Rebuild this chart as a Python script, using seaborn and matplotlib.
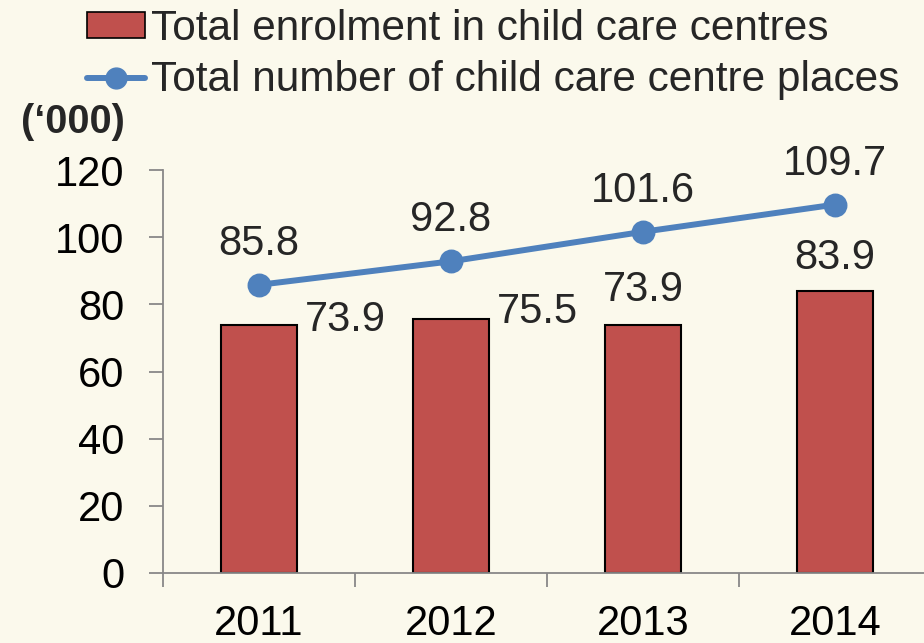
import matplotlib
matplotlib.use("Agg")
import matplotlib.pyplot as plt
import seaborn as sns
import pandas as pd
from matplotlib.patches import Patch
from matplotlib.lines import Line2D

years = ["2011", "2012", "2013", "2014"]
enrolment = [73.9, 75.5, 73.9, 83.9]
places = [85.8, 92.8, 101.6, 109.7]
yticks = [0, 20, 40, 60, 80, 100, 120]
legend_labels = ["Total enrolment in child care centres",
                 "Total number of child care centre places"]

sns.set_theme(style="white")
plt.rcParams["font.family"] = ["Liberation Sans", "DejaVu Sans"]

BAR = "#C0504D"
LINE = "#4F81BD"
BG = "#FBF9EC"

df = pd.DataFrame({"year": years, "enrolment": enrolment, "places": places})

fig = plt.figure(figsize=(9.24, 6.43), dpi=100, facecolor=BG)
ax = fig.add_axes([163/924, (643-573)/643, 768/924, 403/643])
ax.set_facecolor("none")

sns.barplot(data=df, x="year", y="enrolment", color=BAR, width=0.4,
            edgecolor="black", linewidth=1.5, saturation=1, ax=ax)
sns.pointplot(data=df, x="year", y="places", color=LINE, markers="o",
              markersize=14, linewidth=4.3, ax=ax)

ax.set_ylim(0, 120)
ax.set_xlim(-0.5, 3.5)
ax.set_yticks(yticks)
ax.set_xlabel("")
ax.set_ylabel("")
for s in ["top", "right"]:
    ax.spines[s].set_visible(False)
for s in ["left", "bottom"]:
    ax.spines[s].set_color("#888888")
    ax.spines[s].set_linewidth(1.3)

ax.tick_params(axis="y", which="major", direction="out", length=10, width=1.3,
               color="#888888", labelsize=30, pad=18, labelcolor="black", left=True)
ax.tick_params(axis="x", which="major", length=0, labelsize=30, pad=22, labelcolor="black")
ax.set_xticks([-0.5, 0.5, 1.5, 2.5, 3.5], minor=True)
ax.tick_params(axis="x", which="minor", direction="out", length=10, width=1.3,
               color="#888888", bottom=True)

# line labels
for i, v in enumerate(places):
    ax.annotate(f"{v:.1f}", (i, v), xytext=(0, 41), textcoords="offset pixels",
                ha="center", va="center", fontsize=30)

# bar labels
bar_offsets = [(86, 5), (86, 7), (0, 35), (0, 33)]
for i, v in enumerate(enrolment):
    dx, dy = bar_offsets[i]
    ax.annotate(f"{v:.1f}", (i, v), xytext=(dx, dy), textcoords="offset pixels",
                ha="center", va="center", fontsize=30)

handles = [Patch(facecolor=BAR, edgecolor="black", linewidth=1.2),
           Line2D([0], [0], color=LINE, lw=4.3, marker="o", markersize=15)]
fig.legend(handles, legend_labels, loc="upper left", bbox_to_anchor=(87/924, 1 - 9/643),
           frameon=False, fontsize=30.5, handlelength=1.38, handletextpad=0.12,
           labelspacing=0.27, borderpad=0.0, borderaxespad=0.0, handleheight=0.55)

fig.text(21/924, (643-122)/643, "(‘000)", fontsize=28.5, fontweight="bold",
         ha="left", va="center")

fig.savefig("out.png", dpi=100, facecolor=BG)
